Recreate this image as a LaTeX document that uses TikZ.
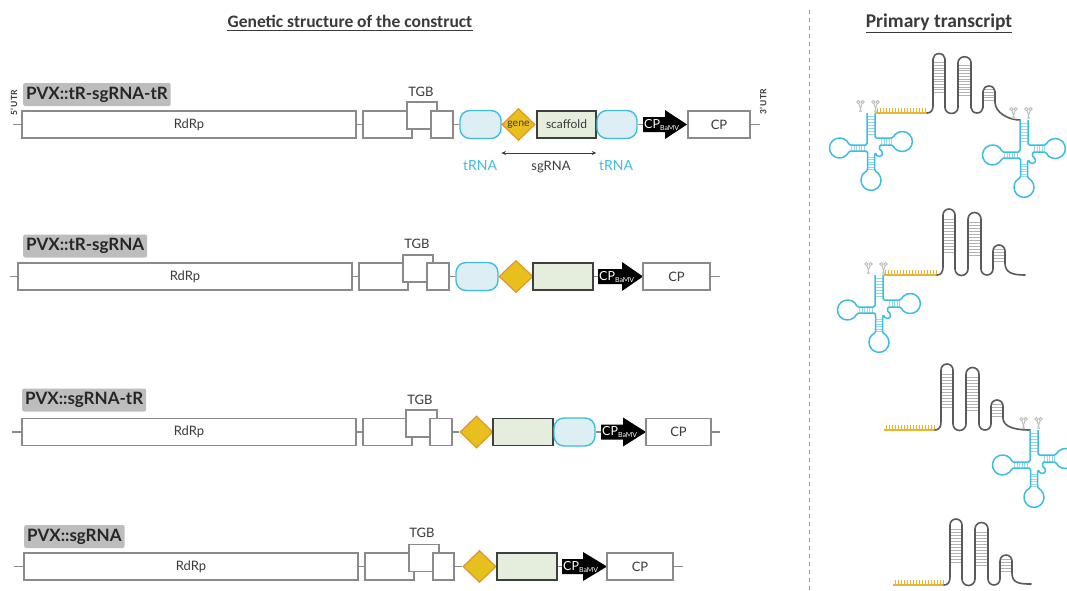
\documentclass[tikz,border=0pt]{standalone}
\usepackage{fontspec}
\setmainfont{Lato}
\newfontfamily\headfont{Carlito}
\usetikzlibrary{shapes.geometric,arrows.meta,calc}

\definecolor{boxgray}{HTML}{8A8A8A}
\definecolor{txt}{HTML}{3A3A3A}
\definecolor{cyanr}{HTML}{3DBDE0}
\definecolor{tfill}{HTML}{DDEFF4}
\definecolor{gold}{HTML}{E7C01E}
\definecolor{orng}{HTML}{E3952A}
\definecolor{scfill}{HTML}{E5EDDD}
\definecolor{scdraw}{HTML}{3F3F3F}
\definecolor{lblbg}{HTML}{BDBDBD}
\definecolor{rna}{HTML}{5A5A5A}
\definecolor{ylw}{HTML}{E9B530}
\definecolor{sepgray}{HTML}{9A9A9A}

\tikzset{
  gbox/.style={draw=boxgray, line width=1.2pt, fill=white, inner sep=0pt,
    minimum height=27pt, text=txt, font=\fontsize{13}{14}\selectfont},
  tbox/.style={draw=cyanr, fill=tfill, line width=1.4pt, rounded corners=10pt,
    inner sep=0pt, minimum height=28pt},
  genedia/.style={diamond, draw=orng, fill=gold, line width=1.2pt, inner sep=0pt,
    minimum width=33pt, minimum height=32pt, text=txt, font=\fontsize{10.5}{11}\selectfont},
  scbox/.style={draw=scdraw, fill=scfill, line width=1.4pt, inner sep=0pt,
    minimum height=27pt, text=txt, font=\fontsize{12}{13}\selectfont},
  bb/.style={draw=boxgray, line width=1.2pt},
  lbl/.style={fill=lblbg, rounded corners=2pt, inner xsep=3pt, inner ysep=0pt,
    minimum height=23pt, font=\fontsize{17}{19}\selectfont\bfseries, text=black!85},
  tgb/.style={text=txt, font=\fontsize{13}{14}\selectfont},
  utr/.style={rotate=90, text=txt, font=\fontsize{8.5}{9}\selectfont\bfseries, inner sep=0pt},
  trnalbl/.style={text=cyanr, font=\fontsize{14}{15}\selectfont},
  sglbl/.style={text=txt, font=\fontsize{13}{14}\selectfont},
  cptext/.style={text=white, inner sep=0pt, font=\fontsize{12.5}{13}\selectfont},
  head/.style={font=\headfont\bfseries, inner sep=0pt, text=txt},
  ul/.style={draw=txt, line width=1pt},
  sepline/.style={draw=sepgray, line width=0.9pt, dash pattern=on 4pt off 4pt},
  trnaline/.style={draw=cyanr, line width=1.5pt, rounded corners=1.5pt, line join=round},
  trnabp/.style={draw=cyanr!55, line width=0.5pt},
  rnaline/.style={draw=rna, line width=1.6pt, line cap=round, line join=round},
  rnabp/.style={draw=gray!60, line width=0.6pt},
  ylwline/.style={draw=ylw, line width=1.8pt},
  ylwtick/.style={draw=ylw, line width=0.7pt},
  scisst/.style={draw=gray!50, line width=0.9pt},
  trnapic/.pic={
    % base pairs of the four stems
    \foreach \yy in {3,6,...,22} \draw[trnabp] (-4,\yy) -- (4,\yy);
    \foreach \xx in {-7,-9.5,...,-21} \draw[trnabp] (\xx,32) -- (\xx,38);
    \foreach \xx in {10.5,13,...,21.5} \draw[trnabp] (\xx,25) -- (\xx,32);
    \foreach \yy in {44,46.5,...,57} \draw[trnabp] (-3.5,\yy) -- (3.5,\yy);
    % cloverleaf backbone, 5' end to 3' end
    \draw[trnaline] (-4,0) -- (-4,32) -- (-22,32)
      arc[start angle=-17.46, end angle=-342.54, radius=10]
      -- (-3.5,38) -- (-3.5,58)
      arc[start angle=249.5, end angle=-69.5, radius=10]
      -- (3.5,40.5) -- (5.5,40.5)
      arc[start angle=180, end angle=-90, radius=3]
      -- (8.5,32) -- (22,32)
      arc[start angle=159.5, end angle=-159.5, radius=10]
      -- (4,25) -- (4,0);
  },
  scis/.pic={
    \draw[scisst] (-2.2,-5) circle[radius=1.6] (2.2,-5) circle[radius=1.6]
      (-1.5,-3.6) -- (0.9,5) (1.5,-3.6) -- (-0.9,5);
  }
}

% black arrow for the BaMV coat protein promoter
% #1 name, #2 left x, #3 centre y, #4 shaft length, #5 total length
\newcommand\cparrow[5]{%
  \coordinate (#1w) at (#2,#3);
  \coordinate (#1e) at (#2+#5,#3);
  \fill[black] (#2,#3-7.5) -- (#2+#4,#3-7.5) -- (#2+#4,#3-14.5) -- (#2+#5,#3)
    -- (#2+#4,#3+14.5) -- (#2+#4,#3+7.5) -- (#2,#3+7.5) -- cycle;
  \node[cptext, anchor=west] (#1) at (#2+1,#3)
    {CP\raisebox{-2pt}{\fontsize{7}{8}\selectfont BaMV}};%
}

% scaffold hairpins: #1,#2 start, #3,#4 end of the tail, #5 vertical scale
\newcommand\stemloops[5]{%
  \begin{scope}[shift={(#1,#2)}, yscale=#5]
    \foreach \yy in {-56,-53,...,-22} \draw[rnabp] (6,\yy) -- (18,\yy);
    \foreach \yy in {-53,-50,...,-19} \draw[rnabp] (31,\yy) -- (44,\yy);
    \foreach \yy in {-26,-23,...,-12} \draw[rnabp] (56,\yy) -- (68,\yy);
    \draw[rnaline] (0,0) .. controls (4,0) and (6,-3) .. (6,-8) -- (6,-60)
      arc[start angle=180, end angle=360, radius=6] -- (18,-6)
      arc[start angle=180, end angle=0, radius=6.5] -- (31,-56)
      arc[start angle=180, end angle=360, radius=6.5] -- (44,-6)
      arc[start angle=180, end angle=0, radius=6] -- (56,-24)
      arc[start angle=180, end angle=360, radius=6] -- (68,-12) coordinate (tailstart);
  \end{scope}
  \draw[rnaline] (tailstart) .. controls +(0,10) and +(-12,0) .. (#3,#4);
}

% toothed leader line: #1 start x, #2 end x, #3 y
\newcommand\leader[3]{%
  \draw[ylwline] (#1,#3) -- (#2,#3);
  \pgfmathsetmacro\tfirst{#1+2}\pgfmathsetmacro\tsecond{#1+5}\pgfmathsetmacro\tlast{#2-1}%
  \foreach \tt in {\tfirst,\tsecond,...,\tlast} \draw[ylwtick] (\tt,#3) -- (\tt,#3-5);
}

\begin{document}
\begin{tikzpicture}[x=1pt, y=-1pt]
\useasboundingbox (0,0) rectangle (1067,590);
\clip (0,0) rectangle (1067,590);
\fill[white] (0,0) rectangle (1067,590);

% headings
\node[head, font=\headfont\bfseries\fontsize{17.5}{20}\selectfont, anchor=base] (h1) at (350,27)
  {Genetic structure of the construct};
\draw[ul] ($(h1.base west)+(0,3)$) -- ($(h1.base east)+(0,3)$);
\node[head, font=\headfont\bfseries\fontsize{19.5}{22}\selectfont, anchor=base] (h2) at (939,27)
  {Primary transcript};
\draw[ul] ($(h2.base west)+(0,5.5)$) -- ($(h2.base east)+(0,5.5)$);

\coordinate (septop) at (809,10);
\coordinate (sepbot) at (809,590);
\draw[sepline] (septop) -- (sepbot);

%% ---------- PVX::tR-sgRNA-tR ----------
\node[lbl, anchor=west] (l1) at (23,94.5) {PVX::tR-sgRNA-tR};
\node[utr] (utr5) at (14,103) {5' UTR};
\coordinate (a5) at (13,124.5);
\node[gbox, minimum width=334pt] (rdrp1) at (189,124.5) {RdRp};
\node[gbox, minimum width=49pt] (ta1) at (387.5,124.5) {};
\node[gbox, minimum width=30pt] (tb1) at (422,115.5) {};
\node[gbox, minimum width=22pt] (tc1) at (442,124.5) {};
\node[tgb] (tgb1) at (421,92) {TGB};
\node[tbox, minimum width=41pt] (tra1) at (480.5,124.5) {};
\node[genedia] (ge1) at (518.5,124.5) {gene};
\node[scbox, minimum width=59pt] (sc1) at (566.5,124.5) {scaffold};
\node[tbox, minimum width=40pt] (trb1) at (617,124.5) {};
\cparrow{cpb1}{643}{124.5}{22}{44}
\node[gbox, minimum width=62pt] (cp1) at (719,124.5) {CP};
\coordinate (a3) at (760,124.5);
\node[utr] (utr3) at (763,102) {3' UTR};
\draw[bb] (a5) -- (rdrp1.west) (rdrp1.east) -- (ta1.west) (tc1.east) -- (tra1.west)
  (trb1.east) -- (cpb1w) (cp1.east) -- (a3);
\coordinate (sgy) at (0,153);
\draw[draw=txt, line width=0.8pt, {Stealth[length=4.5pt,width=4pt]}-{Stealth[length=4.5pt,width=4pt]}]
  (ge1.west |- sgy) -- (trb1.west |- sgy);
\node[trnalbl] (tl1) at (480,166) {tRNA};
\node[sglbl] (sgl) at (551,167) {sgRNA};
\node[trnalbl] (tl2) at (616,166) {tRNA};

%% ---------- PVX::tR-sgRNA ----------
\node[lbl, anchor=west] (l2) at (23,246) {PVX::tR-sgRNA};
\coordinate (b5) at (10,276.5);
\node[gbox, minimum width=334pt] (rdrp2) at (185,276.5) {RdRp};
\node[gbox, minimum width=49pt] (ta2) at (383.5,276.5) {};
\node[gbox, minimum width=30pt] (tb2) at (418,268.5) {};
\node[gbox, minimum width=22pt] (tc2) at (438,276.5) {};
\node[tgb] (tgb2) at (417,244) {TGB};
\node[tbox, minimum width=42pt] (tra2) at (477,276.5) {};
\node[genedia, minimum width=34pt] (ge2) at (516,276.5) {};
\node[scbox, minimum width=60pt] (sc2) at (563,276.5) {};
\cparrow{cpb2}{598}{276.5}{24}{45}
\node[gbox, minimum width=67pt] (cp2) at (676.5,276.5) {CP};
\coordinate (b3) at (720,276.5);
\draw[bb] (b5) -- (rdrp2.west) (rdrp2.east) -- (ta2.west) (tc2.east) -- (tra2.west)
  (sc2.east) -- (cpb2w) (cp2.east) -- (b3);

%% ---------- PVX::sgRNA-tR ----------
\node[lbl, anchor=west] (l3) at (22,400) {PVX::sgRNA-tR};
\coordinate (c5) at (12,432);
\node[gbox, minimum width=334pt] (rdrp3) at (189,432) {RdRp};
\node[gbox, minimum width=49pt] (ta3) at (387.5,432) {};
\node[gbox, minimum width=31pt] (tb3) at (421.5,423.5) {};
\node[gbox, minimum width=22pt] (tc3) at (441,432) {};
\node[tgb] (tgb3) at (420,400) {TGB};
\node[genedia] (ge3) at (476.5,432) {};
\node[scbox, minimum width=60pt] (sc3) at (523,432) {};
\node[tbox, minimum width=41pt] (tra3) at (574.5,432) {};
\cparrow{cpb3}{601}{432}{22}{45}
\node[gbox, minimum width=65pt] (cp3) at (678.5,432) {CP};
\coordinate (c3) at (720,432);
\draw[bb] (c5) -- (rdrp3.west) (rdrp3.east) -- (ta3.west) (tc3.east) -- (ge3.west)
  (tra3.east) -- (cpb3w) (cp3.east) -- (c3);

%% ---------- PVX::sgRNA ----------
\node[lbl, anchor=west] (l4) at (24,536.5) {PVX::sgRNA};
\coordinate (d5) at (14,566.5);
\node[gbox, minimum width=334pt] (rdrp4) at (191,566.5) {RdRp};
\node[gbox, minimum width=49pt] (ta4) at (389.5,566.5) {};
\node[gbox, minimum width=30pt] (tb4) at (424,558) {};
\node[gbox, minimum width=21pt] (tc4) at (443.5,566.5) {};
\node[tgb] (tgb4) at (422,533) {TGB};
\node[genedia] (ge4) at (479.5,566.5) {};
\node[scbox, minimum width=60pt] (sc4) at (527,566.5) {};
\cparrow{cpb4}{562}{566.5}{21}{45}
\node[gbox, minimum width=66pt] (cp4) at (640,566.5) {CP};
\coordinate (d3) at (683,566.5);
\draw[bb] (d5) -- (rdrp4.west) (rdrp4.east) -- (ta4.west) (tc4.east) -- (ge4.west)
  (sc4.east) -- (cpb4w) (cp4.east) -- (d3);

%% ---------- primary transcripts ----------
% tRNA - sgRNA - tRNA
\pic at (871,113) {trnapic};
\pic at (860.5,107) {scis};
\pic at (875.5,107) {scis};
\leader{875}{927}{113}
\stemloops{927}{113}{1020}{120}{0.9}
\pic at (1024,120) {trnapic};
\pic at (1013.5,114) {scis};
\pic at (1028.5,114) {scis};

% tRNA - sgRNA
\pic at (879,275) {trnapic};
\pic at (868.5,269) {scis};
\pic at (883.5,269) {scis};
\leader{883}{937}{275}
\stemloops{937}{275}{1025}{275}{1}

% sgRNA - tRNA
\leader{884}{935}{430}
\stemloops{935}{430}{1030}{430}{1}
\pic at (1034,430) {trnapic};
\pic at (1023.5,424) {scis};
\pic at (1038.5,424) {scis};

% sgRNA alone
\leader{893}{944}{585}
\stemloops{944}{585}{1031}{584}{1}

\end{tikzpicture}
\end{document}
